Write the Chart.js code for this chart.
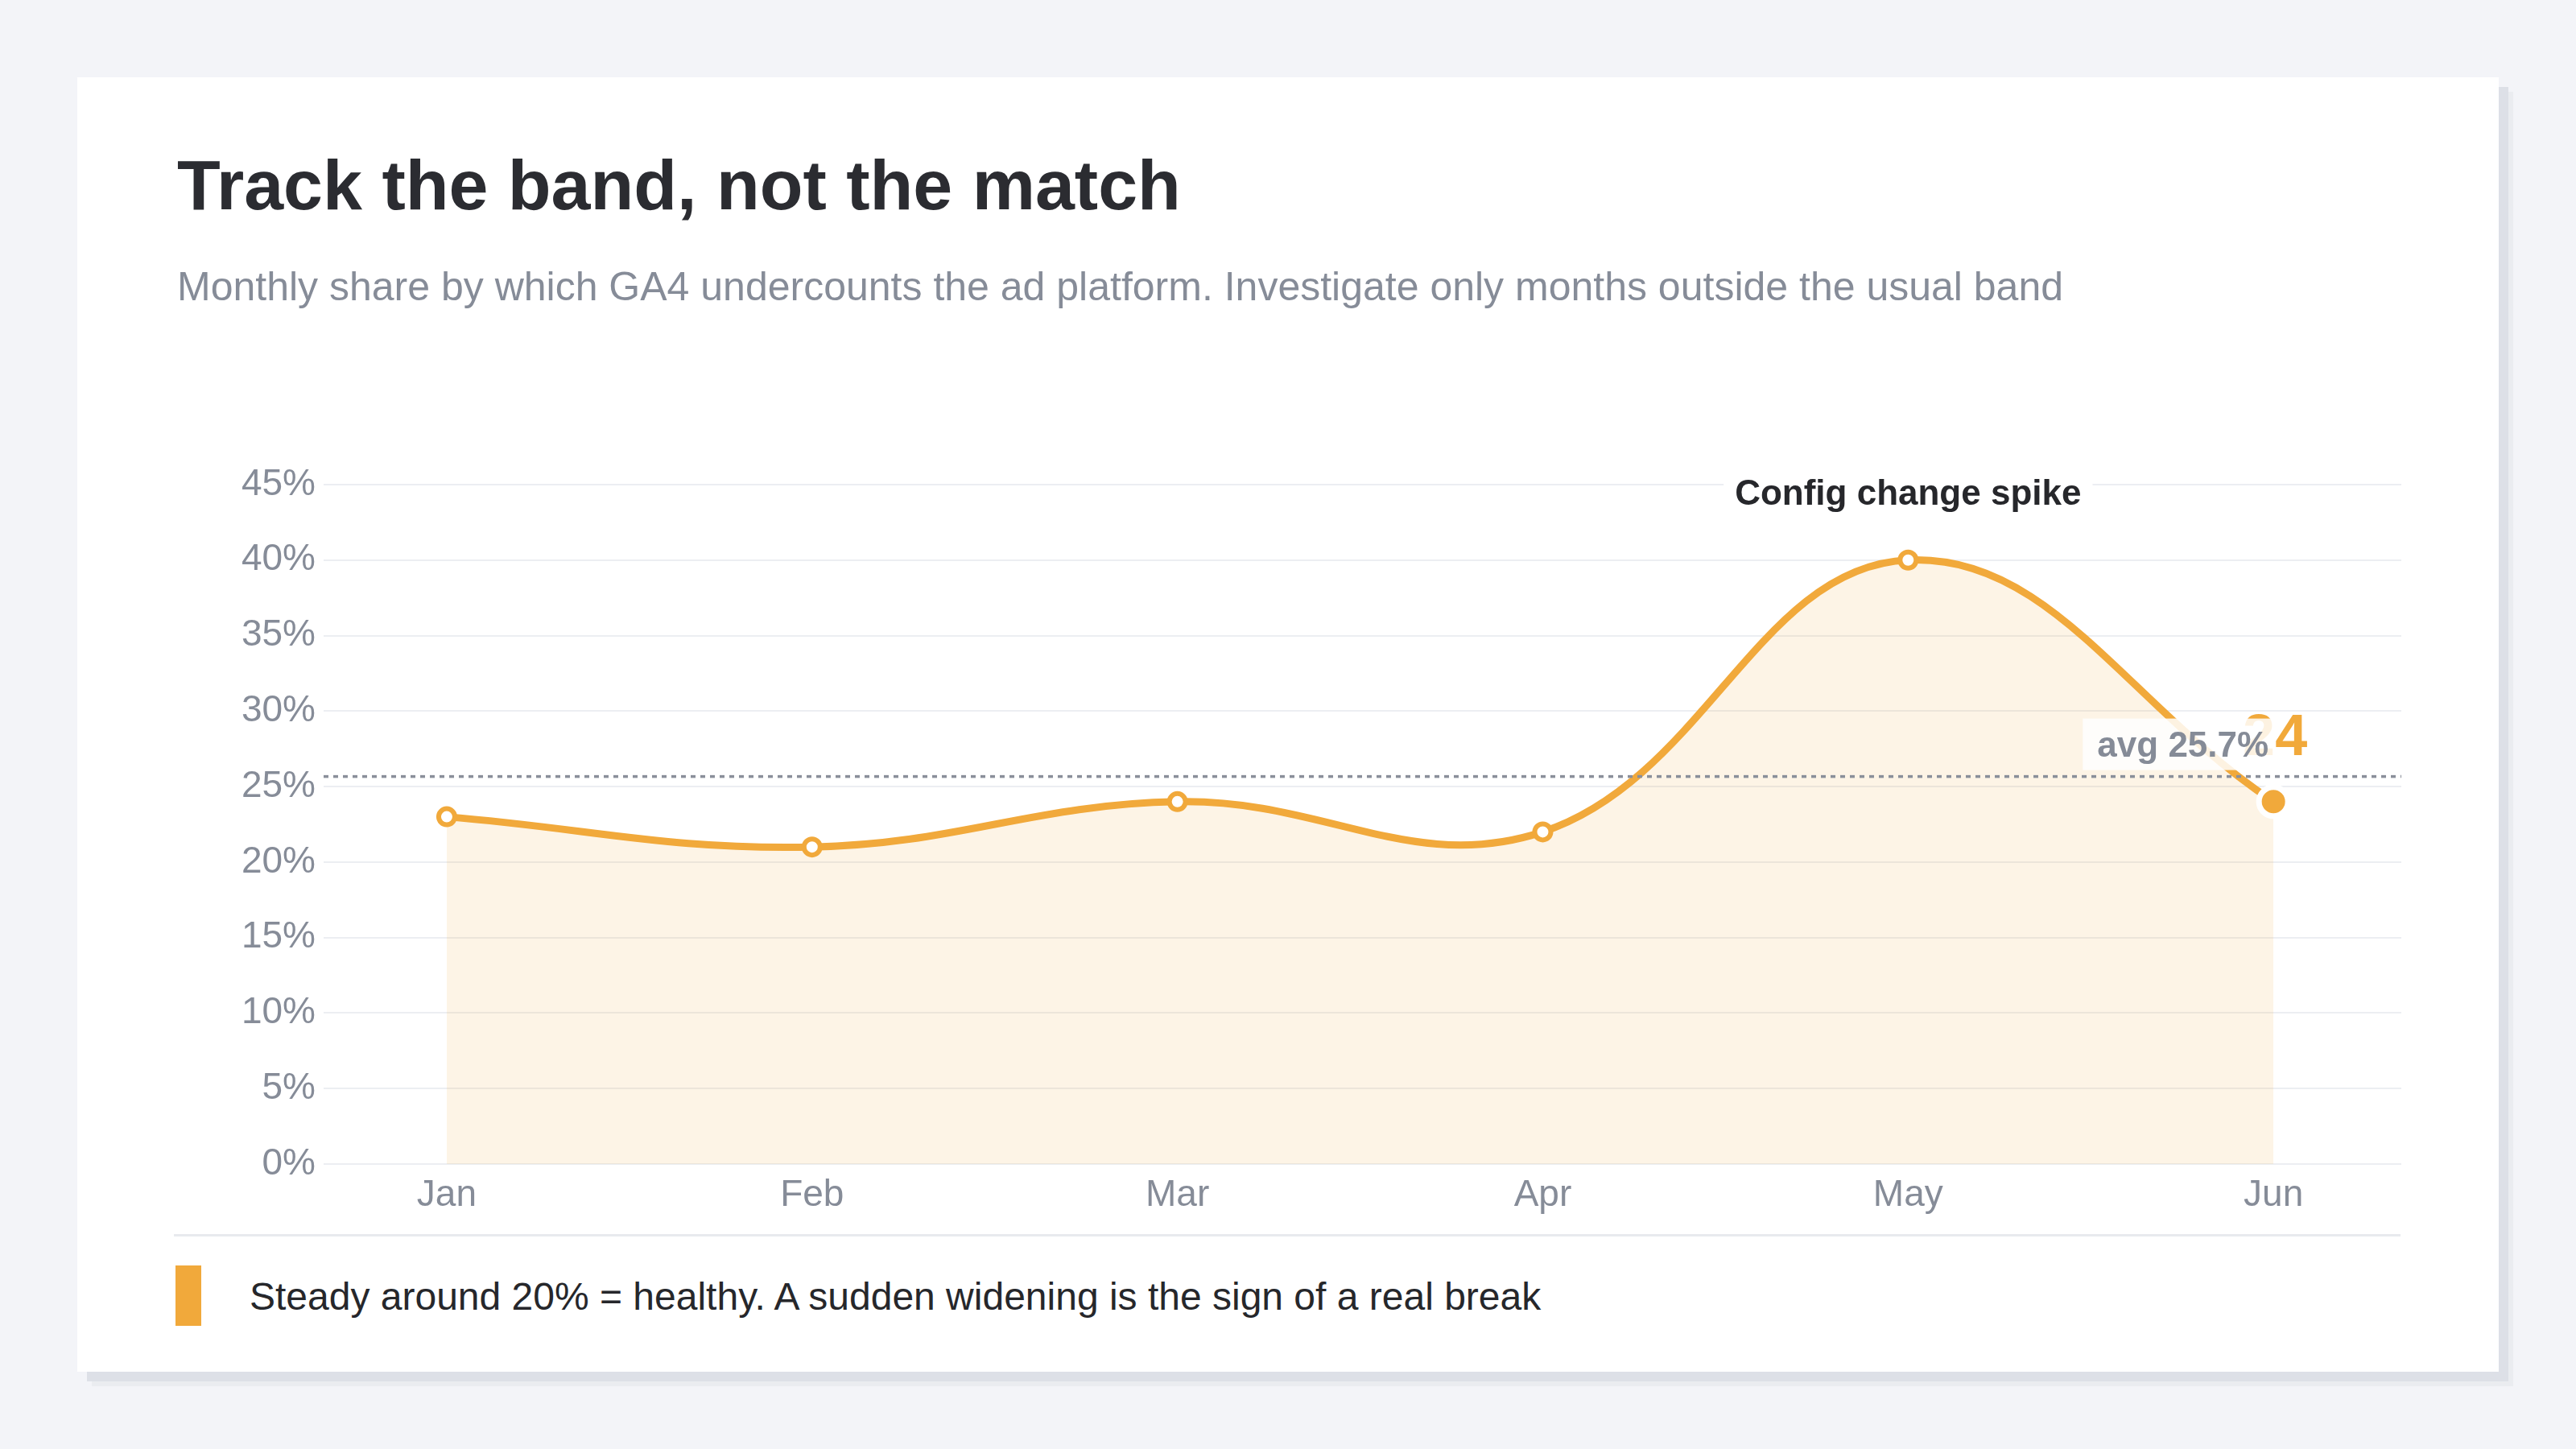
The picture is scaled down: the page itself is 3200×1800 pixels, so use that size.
<!DOCTYPE html>
<html>
<head>
<meta charset="utf-8">
<script src="https://cdn.jsdelivr.net/npm/chart.js@4/dist/chart.umd.min.js"></script>
<style>
  html, body { margin: 0; padding: 0; }
  body { width: 3200px; height: 1800px; background: #f3f4f8; position: relative; overflow: hidden;
         font-family: "Liberation Sans", Arial, Helvetica, sans-serif; }
  .card { position: absolute; left: 96px; top: 96px; width: 3008px; height: 1608px; background: #fff;
          box-shadow: 12px 12px 0 #dde0e7, 18px 18px 0 #eaecf0; }
  .title { position: absolute; left: 124px; top: 90px; font-size: 88px; line-height: 88px; font-weight: 700;
           color: #2b2c31; white-space: nowrap; }
  .subtitle { position: absolute; left: 124px; top: 235px; font-size: 50px; line-height: 50px; color: #868c98;
              white-space: nowrap; }
  .chartbox { position: absolute; left: 124px; top: 444px; width: 2788px; height: 990px; }
  .sep { position: absolute; left: 120px; top: 1437px; width: 2766px; height: 3px; background: #e8eaee; }
  .bar { position: absolute; left: 122px; top: 1476px; width: 32px; height: 75px; background: #f1a93b; }
  .note { position: absolute; left: 214px; top: 1491px; font-size: 48px; line-height: 48px; color: #26272b;
          white-space: nowrap; }
</style>
</head>
<body>
<div class="card">
  <div class="title">Track the band, not the match</div>
  <div class="subtitle">Monthly share by which GA4 undercounts the ad platform. Investigate only months outside the usual band</div>
  <div class="chartbox"><canvas id="c" width="2788" height="990"></canvas></div>
  <div class="sep"></div>
  <div class="bar"></div>
  <div class="note">Steady around 20% = healthy. A sudden widening is the sign of a real break</div>
</div>
<script>
const months = ["Jan", "Feb", "Mar", "Apr", "May", "Jun"];
const gapPct = [23, 21, 24, 22, 40, 24];
const yTicks = [0, 5, 10, 15, 20, 25, 30, 35, 40, 45];
const spikeLabel = "Config change spike";
const spikeIndex = 4;

const ORANGE = "#f1a93b";
const avg = gapPct.reduce((a, b) => a + b, 0) / gapPct.length;
const lastIdx = gapPct.length - 1;

Chart.defaults.font.family = '"Liberation Sans", Arial, Helvetica, sans-serif';

const overlay = {
  id: "overlay",
  afterDatasetsDraw(chart) {
    const { ctx, chartArea, scales } = chart;
    const xs = scales.x, ys = scales.y;
    ctx.save();
    // value label on last point
    const lx = xs.getPixelForValue(lastIdx);
    const ly = ys.getPixelForValue(gapPct[lastIdx]);
    ctx.font = 'bold 72px "Liberation Sans", Arial, sans-serif';
    ctx.fillStyle = ORANGE;
    ctx.textAlign = "center";
    ctx.textBaseline = "alphabetic";
    ctx.fillText(String(gapPct[lastIdx]), lx + 2, ly - 58);

    // average line
    const ay = ys.getPixelForValue(avg);
    ctx.strokeStyle = "#8a8f9a";
    ctx.lineWidth = 3.5;
    ctx.setLineDash([6, 6]);
    ctx.beginPath();
    ctx.moveTo(chartArea.left, ay);
    ctx.lineTo(chartArea.right, ay);
    ctx.stroke();
    ctx.setLineDash([]);

    // average label
    const txt = "avg " + avg.toFixed(1) + "%";
    ctx.font = 'bold 44px "Liberation Sans", Arial, sans-serif';
    const w = ctx.measureText(txt).width;
    const right = lx - 6;
    ctx.fillStyle = "rgba(255,255,255,0.85)";
    ctx.fillRect(right - w - 18, ay - 72, w + 24, 64);
    ctx.fillStyle = "#858b97";
    ctx.textAlign = "right";
    ctx.fillText(txt, right, ay - 25);

    // spike annotation
    const sx = xs.getPixelForValue(spikeIndex);
    const sy = ys.getPixelForValue(gapPct[spikeIndex]);
    ctx.font = 'bold 44px "Liberation Sans", Arial, sans-serif';
    const sw = ctx.measureText(spikeLabel).width;
    ctx.fillStyle = "#ffffff";
    ctx.fillRect(sx - sw / 2 - 14, sy - 112, sw + 28, 56);
    ctx.fillStyle = "#26272b";
    ctx.textAlign = "center";
    ctx.fillText(spikeLabel, sx, sy - 69);
    ctx.restore();
  }
};

new Chart(document.getElementById("c"), {
  type: "line",
  data: {
    datasets: [{
      data: months.map((m, i) => ({ x: i, y: gapPct[i] })),
      borderColor: ORANGE,
      borderWidth: 9,
      tension: 0.4,
      fill: "origin",
      backgroundColor: "rgba(241,169,59,0.13)",
      pointRadius: gapPct.map((v, i) => i === lastIdx ? 18 : 10),
      pointBorderWidth: gapPct.map((v, i) => i === lastIdx ? 7 : 6),
      pointBackgroundColor: gapPct.map((v, i) => i === lastIdx ? ORANGE : "#ffffff"),
      pointBorderColor: gapPct.map((v, i) => i === lastIdx ? "#ffffff" : ORANGE),
      clip: false
    }]
  },
  options: {
    responsive: false,
    animation: false,
    events: [],
    layout: { padding: { top: 62, right: 8, bottom: 0, left: 0 } },
    plugins: { legend: { display: false }, tooltip: { enabled: false } },
    scales: {
      x: {
        type: "linear",
        min: -0.337,
        max: 5.35,
        grid: { display: false, drawTicks: false },
        border: { display: false },
        afterFit(s) { s.height = 84; },
        afterBuildTicks(s) { s.ticks = months.map((m, i) => ({ value: i })); },
        ticks: {
          padding: 12,
          color: "#868c98",
          font: { size: 46 },
          autoSkip: false,
          maxRotation: 0,
          callback: (v) => months[v]
        }
      },
      y: {
        min: yTicks[0],
        max: yTicks[yTicks.length - 1],
        afterFit(s) { s.width = 182; },
        afterBuildTicks(s) { s.ticks = yTicks.map(v => ({ value: v })); },
        grid: { color: "#eceef2", lineWidth: 2, drawTicks: false },
        border: { display: false },
        ticks: {
          padding: 10,
          color: "#868c98",
          font: { size: 46 },
          callback: (v) => v + "%"
        }
      }
    }
  },
  plugins: [overlay]
});
</script>
</body>
</html>
